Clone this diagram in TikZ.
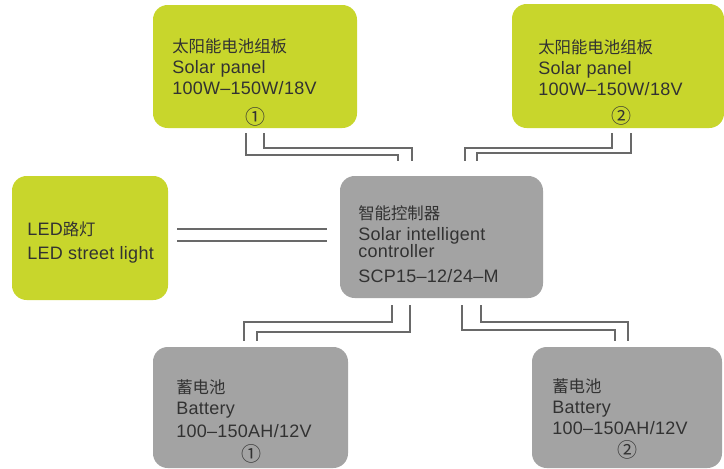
\documentclass[tikz,border=0pt]{standalone}
\usepackage{fontspec}
\setmainfont{Liberation Sans}[LetterSpace=1.5]
\newfontfamily\cjk{Noto Sans CJK SC}
\definecolor{panelgreen}{RGB}{200,214,44}
\definecolor{boxgray}{RGB}{163,163,163}
\definecolor{wiregray}{RGB}{105,105,105}
\definecolor{txtgray}{RGB}{50,50,50}
\newcommand{\zh}[1]{{\cjk\fontsize{12.3}{15}\selectfont #1}}
\newcommand{\circnum}[1]{{\cjk\fontsize{15}{15}\selectfont #1}}
\tikzset{
  greenbox/.style={fill=panelgreen, rounded corners=11pt, inner sep=0pt},
  graybox/.style={fill=boxgray, rounded corners=11pt, inner sep=0pt},
  boxtext/.style={anchor=north west, align=left, inner sep=0pt, text=txtgray,
    font=\fontsize{13.5}{15.75}\selectfont},
  numtext/.style={inner sep=0pt, text=txtgray},
  wire/.style={draw=wiregray, line width=0.9pt}
}
\begin{document}
\begin{tikzpicture}[x=0.75pt,y=-0.75pt]
  \useasboundingbox (0,0) rectangle (724,468);
  % boxes
  \node[greenbox, minimum width=153pt, minimum height=92.25pt] (sp1) at (255,66.5) {};
  \node[greenbox, minimum width=159pt, minimum height=93pt] (sp2) at (618,66) {};
  \node[greenbox, minimum width=117pt, minimum height=93pt] (led) at (90,238) {};
  \node[graybox, minimum width=152.25pt, minimum height=91.5pt] (ctrl) at (441.5,237) {};
  \node[graybox, minimum width=146.25pt, minimum height=90.75pt] (bat1) at (250.5,407.5) {};
  \node[graybox, minimum width=142.5pt, minimum height=90.75pt] (bat2) at (627,407.5) {};
  % texts
  \node[boxtext] (sp1txt) at (172,38) {\zh{太阳能电池组板}\\ Solar panel\\ 100W–150W/18V};
  \node[numtext] (sp1num) at (255,117) {\circnum{①}};
  \node[boxtext] (sp2txt) at (538,39) {\zh{太阳能电池组板}\\ Solar panel\\ 100W–150W/18V};
  \node[numtext] (sp2num) at (621,116) {\circnum{②}};
  \node[boxtext] (ledtxt) at (27,221) {LED\zh{路灯}\\[2.25pt] LED street light};
  \node[boxtext, font=\fontsize{13.5}{12.75}\selectfont] (ctrltxt) at (358,205)
    {\zh{智能控制器}\\[3pt] Solar intelligent\\ controller\\[6pt] SCP15–12/24–M};
  \node[boxtext] (bat1txt) at (176,379) {\zh{蓄电池}\\ Battery\\[2pt] 100–150AH/12V};
  \node[numtext] (bat1num) at (251,454) {\circnum{①}};
  \node[boxtext] (bat2txt) at (552,378) {\zh{蓄电池}\\ Battery\\ 100–150AH/12V};
  \node[numtext] (bat2num) at (627,450) {\circnum{②}};
  % wires: panels to controller
  \draw[wire, shorten <=3.75pt, shorten >=11.25pt] (246,0 |- sp1.south) -- (246,155) -- (398,155) -- (398,0 |- ctrl.north);
  \draw[wire, shorten <=3.75pt, shorten >=11.25pt] (264,0 |- sp1.south) -- (264,148) -- (412,148) -- (412,0 |- ctrl.north);
  \draw[wire, shorten <=3.75pt, shorten >=11.25pt] (612,0 |- sp2.south) -- (612,148) -- (465,148) -- (465,0 |- ctrl.north);
  \draw[wire, shorten <=3.75pt, shorten >=11.25pt] (631,0 |- sp2.south) -- (631,153) -- (477,153) -- (477,0 |- ctrl.north);
  % wires: controller to lamp
  \draw[wire, shorten <=6.75pt, shorten >=9.75pt] (led.east |- 0,229) -- (ctrl.west |- 0,229);
  \draw[wire, shorten <=6.75pt, shorten >=9.75pt] (led.east |- 0,241) -- (ctrl.west |- 0,241);
  % wires: controller to batteries
  \draw[wire, shorten <=5.25pt, shorten >=4.5pt] (392,0 |- ctrl.south) -- (392,322) -- (244,322) -- (244,0 |- bat1.north);
  \draw[wire, shorten <=5.25pt, shorten >=4.5pt] (410,0 |- ctrl.south) -- (410,332) -- (257,332) -- (257,0 |- bat1.north);
  \draw[wire, shorten <=5.25pt, shorten >=4.5pt] (462,0 |- ctrl.south) -- (462,330) -- (615,330) -- (615,0 |- bat2.north);
  \draw[wire, shorten <=5.25pt, shorten >=4.5pt] (481,0 |- ctrl.south) -- (481,322) -- (628,322) -- (628,0 |- bat2.north);
\end{tikzpicture}
\end{document}
